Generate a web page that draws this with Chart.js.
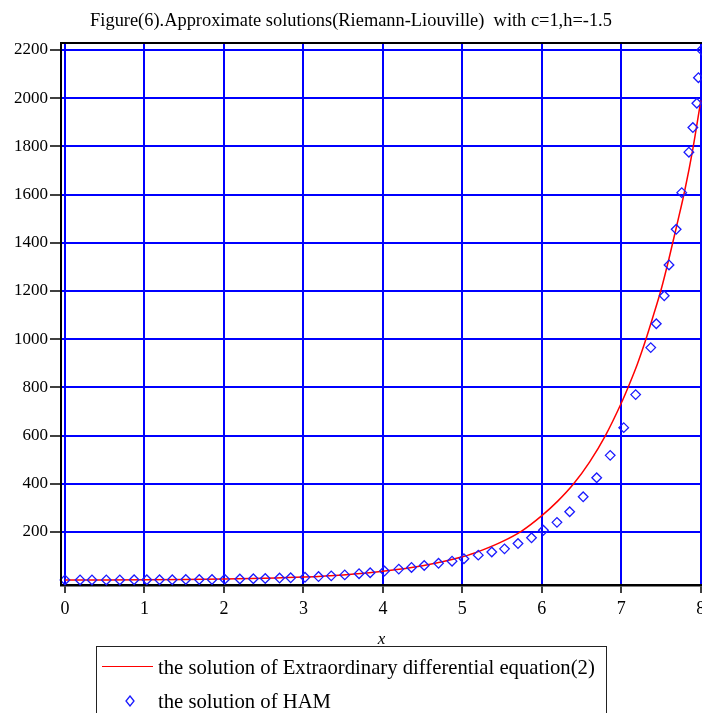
<!DOCTYPE html>
<html>
<head>
<meta charset="utf-8">
<script src="https://cdn.jsdelivr.net/npm/chart.js@4/dist/chart.umd.min.js"></script>
<style>
  html, body { margin: 0; padding: 0; background: #fff; }
  #wrap { position: relative; width: 702px; height: 713px; overflow: hidden; }
  #legend {
    position: absolute; left: 96px; top: 646px; width: 511px; height: 80px;
    border: 1.5px solid #222; box-sizing: border-box;
    font-family: "Liberation Serif", serif; font-size: 20.7px; color: #000;
  }
  .row { position: absolute; left: 0; height: 26px; line-height: 26px; white-space: nowrap; }
  .row .txt { position: absolute; left: 61px; top: 0; }
  .sample-line { position: absolute; left: 5px; width: 51px; top: 12px; border-top: 1.5px solid #ff0000; }
  .sample-pt { position: absolute; left: 28px; top: 7px; }
</style>
</head>
<body>
<div id="wrap">
  <canvas id="c" width="702" height="713"></canvas>
  <div id="legend">
    <div class="row" style="top:7px;"><span class="sample-line"></span><span class="txt">the solution of Extraordinary differential equation(2)</span></div>
    <div class="row" style="top:41px;"><svg class="sample-pt" width="10" height="12"><polygon points="5,1 9,6 5,11 1,6" fill="none" stroke="#1a1aff" stroke-width="1.3"/></svg><span class="txt">the solution of HAM</span></div>
  </div>
</div>
<script>
// ---- data ----
const titleText = "Figure(6).Approximate solutions(Riemann-Liouville)  with c=1,h=-1.5";
const exactLabel = "the solution of Extraordinary differential equation(2)";
const hamLabel = "the solution of HAM";

const exactX = [0, 0.5, 1, 1.5, 2, 2.5, 3, 3.5, 4, 4.5, 5, 5.25, 5.5, 5.75, 6, 6.2, 6.4, 6.6, 6.8, 7, 7.1, 7.2, 7.3, 7.4, 7.5, 7.6, 7.7, 7.8, 7.9, 8];
const exactY = [0.7, 1.1, 1.8, 3, 5, 8, 13, 22, 37, 60, 97, 125, 160, 205, 268, 328, 400, 490, 600, 735, 812, 895, 990, 1095, 1205, 1335, 1475, 1620, 1790, 1990];

const hamX = [0, 0.19, 0.34, 0.52, 0.69, 0.87, 1.03, 1.19, 1.35, 1.52, 1.69, 1.85, 2.01, 2.20, 2.37, 2.52, 2.70, 2.84, 3.02, 3.19, 3.35, 3.52, 3.70, 3.84, 4.02, 4.20, 4.36, 4.52, 4.70, 4.87, 5.02, 5.20, 5.37, 5.53, 5.70, 5.87, 6.02, 6.19, 6.35, 6.52, 6.69, 6.86, 7.03, 7.18, 7.37, 7.44, 7.54, 7.60, 7.69, 7.76, 7.85, 7.90, 7.95, 7.97, 8.01];
const hamY = [1, 1, 1, 1, 1, 2, 2, 2, 2, 3, 3, 3, 4, 5, 6, 7, 9, 10, 12, 15, 18, 22, 27, 31, 38, 46, 53, 61, 70, 79, 89, 104, 117, 130, 152, 176, 207, 240, 284, 346, 425, 518, 633, 770, 965, 1064, 1180, 1308, 1456, 1608, 1776, 1878, 1979, 2085, 2200];

const xTickStep = 1;
const yTickStep = 200;

// ---- chart ----
const FONT = "'Liberation Serif', 'Times New Roman', serif";
const noPad = () => ({left: 0, top: 0, right: 0, bottom: 0});

const framePlugin = {
  id: 'frame',
  afterDraw(chart) {
    const {ctx, chartArea: a} = chart;
    ctx.save();
    ctx.strokeStyle = '#000';
    ctx.lineWidth = 2;
    ctx.beginPath();
    ctx.moveTo(a.left, a.bottom);
    ctx.lineTo(a.left, a.top);
    ctx.lineTo(a.right + 2, a.top);
    ctx.stroke();
    ctx.restore();
  }
};

new Chart(document.getElementById('c'), {
  type: 'scatter',
  data: {
    datasets: [
      {
        label: exactLabel,
        data: exactX.map((x, i) => ({x, y: exactY[i]})),
        showLine: true,
        borderColor: '#ff0000',
        backgroundColor: '#ff0000',
        borderWidth: 1.5,
        pointRadius: 0,
        cubicInterpolationMode: 'monotone',
        clip: false,
        order: 1
      },
      {
        label: hamLabel,
        data: hamX.map((x, i) => ({x, y: hamY[i]})),
        showLine: false,
        pointStyle: 'rectRot',
        pointRadius: 4.8,
        borderColor: '#1a1aff',
        backgroundColor: 'rgba(0,0,0,0)',
        borderWidth: 1.3,
        clip: false,
        order: 0
      }
    ]
  },
  options: {
    responsive: false,
    animation: false,
    devicePixelRatio: 1,
    layout: { autoPadding: false, padding: { left: 0, right: 0, top: 0, bottom: 63 } },
    plugins: {
      legend: { display: false },
      tooltip: { enabled: false },
      title: {
        display: true,
        text: titleText,
        color: '#000',
        font: { family: FONT, size: 18.4, weight: 'normal' },
        padding: { top: 10, bottom: 10.9 }
      }
    },
    scales: {
      x: {
        type: 'linear',
        min: -0.05,
        max: 8.015,
        afterFit(s) { s.height = 65; s.paddingLeft = 0; s.paddingRight = 0; s.getPadding = noPad; },
        ticks: {
          stepSize: xTickStep,
          includeBounds: false,
          autoSkip: false,
          maxRotation: 0,
          color: '#000',
          padding: 5,
          font: { family: FONT, size: 18 },
          callback: v => String(v)
        },
        grid: { color: '#0000ff', lineWidth: 2, tickColor: '#000', tickLength: 8, tickWidth: 1.5 },
        border: { display: true, color: '#000', width: 2.5 },
        title: {
          display: true,
          text: 'x',
          color: '#000',
          font: { family: FONT, size: 17, style: 'italic' },
          padding: { top: 0, bottom: 0 }
        }
      },
      y: {
        type: 'linear',
        min: -19.9,
        max: 2229,
        afterFit(s) { s.width = 61; s.paddingTop = 0; s.paddingBottom = 0; s.getPadding = noPad; },
        afterBuildTicks(s) { s.ticks = s.ticks.filter(t => t.value > 0); },
        ticks: {
          stepSize: yTickStep,
          includeBounds: false,
          autoSkip: false,
          color: '#000',
          padding: 2,
          font: { family: FONT, size: 17 },
          callback: v => String(v)
        },
        grid: { color: '#0000ff', lineWidth: 2, tickColor: '#000', tickLength: 11, tickWidth: 1.5 },
        border: { display: true, color: '#000', width: 2 }
      }
    }
  },
  plugins: [framePlugin]
});
</script>
</body>
</html>
